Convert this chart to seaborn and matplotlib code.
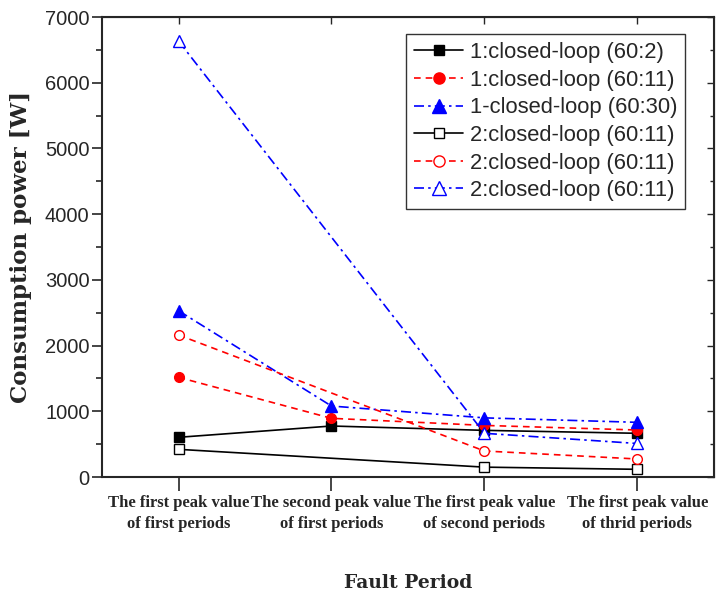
import numpy as np
import pandas as pd
import matplotlib
matplotlib.use("Agg")
import matplotlib.pyplot as plt
import seaborn as sns

categories = ["The first peak value\nof first periods",
              "The second peak value\nof first periods",
              "The first peak value\nof second periods",
              "The first peak value\nof thrid periods"]
labels = ["1:closed-loop (60:2)", "1:closed-loop (60:11)", "1-closed-loop (60:30)",
          "2:closed-loop (60:11)", "2:closed-loop (60:11)", "2:closed-loop (60:11)"]
s1 = [604, 776, 710, 665]
s2 = [1517, 893, 785, 715]
s3 = [2531, 1080, 900, 832]
s4 = [421, np.nan, 150, 117]
s5 = [2161, np.nan, 396, 274]
s6 = [6635, np.nan, 665, 510]
series = [s1, s2, s3, s4, s5, s6]
yticks = [0, 1000, 2000, 3000, 4000, 5000, 6000, 7000]

styles = [
    dict(color="black", ls="-", marker="s", mfc="black", ms=6.5),
    dict(color="red", ls=(0, (4, 3)), marker="o", mfc="red", ms=7),
    dict(color="blue", ls=(0, (6, 2.5, 1.5, 2.5)), marker="^", mfc="blue", ms=8.5),
    dict(color="black", ls="-", marker="s", mfc="white", ms=6.5),
    dict(color="red", ls=(0, (4, 3)), marker="o", mfc="white", ms=7),
    dict(color="blue", ls=(0, (6, 2.5, 1.5, 2.5)), marker="^", mfc="white", ms=8.5),
]

sns.set_style("ticks")
plt.rcParams["font.family"] = ["Liberation Sans", "DejaVu Sans"]

fig = plt.figure(figsize=(7.16, 5.97), dpi=100)
ax = fig.add_axes([0.1425, 0.201, 0.8545, 0.7705])

x = np.arange(len(categories))
for vals, lab, st in zip(series, labels, styles):
    df = pd.DataFrame({"x": x, "y": vals}).dropna()
    sns.lineplot(data=df, x="x", y="y", ax=ax, color=st["color"], linestyle=st["ls"],
                 marker=st["marker"], markersize=st["ms"], markerfacecolor=st["mfc"],
                 markeredgecolor=st["color"], markeredgewidth=1.0, linewidth=1.2,
                 label=lab, sort=False)

ax.set_xlim(-0.5, 3.5)
ax.set_ylim(0, 7000)
ax.set_xticks(x)
ax.set_xticklabels(categories, family=["Liberation Serif"], fontweight="bold", fontsize=12,
                   linespacing=1.45)
ax.set_yticks(yticks)
ax.set_yticklabels([str(v) for v in yticks], fontsize=14.5)
ax.set_yticks(np.arange(500, 7000, 1000), minor=True)
ax.tick_params(axis="y", which="major", direction="out", length=7, width=1.2, pad=2)
ax.tick_params(axis="y", which="minor", direction="out", length=4, width=1.2)
ax.tick_params(axis="x", which="major", direction="out", length=10, width=1.2, pad=3)
for sp in ax.spines.values():
    sp.set_linewidth(1.5)
    sp.set_visible(True)

top = ax.secondary_xaxis("top")
top.set_xticks(x)
top.tick_params(direction="in", length=5, width=1.0, labeltop=False)
right = ax.secondary_yaxis("right")
right.set_yticks(yticks)
right.set_yticks(np.arange(500, 7000, 1000), minor=True)
right.tick_params(which="major", direction="in", length=5, width=1.0, labelright=False)
right.tick_params(which="minor", direction="in", length=3, width=1.0)

ax.set_xlabel("Fault Period", family="DejaVu Serif", fontweight="bold", fontsize=13.5, labelpad=30)
ax.set_ylabel("Consumption power [W]", family="DejaVu Serif", fontweight="bold", fontsize=16.5,
              labelpad=9)

leg = ax.legend(loc="upper right", bbox_to_anchor=(0.953, 0.962), fontsize=15.8,
                labelspacing=0.3, handlelength=2.25, handletextpad=0.3, borderpad=0.35,
                borderaxespad=0, frameon=True, fancybox=False, edgecolor="black",
                markerscale=1.15)
leg.get_frame().set_linewidth(1.0)

fig.savefig("out.png", dpi=100)
